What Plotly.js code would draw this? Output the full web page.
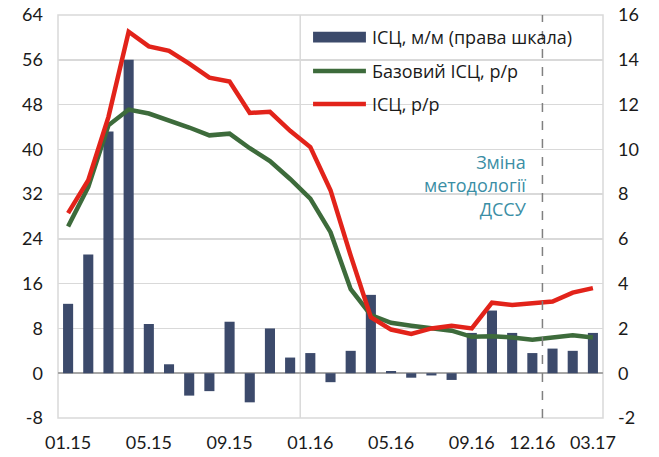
<!DOCTYPE html>
<html>
<head>
<meta charset="utf-8">
<script src="https://cdn.plot.ly/plotly-3.0.1.min.js"></script>
<style>html,body{margin:0;padding:0;background:#fff;}#chart{width:659px;height:457px;}</style>
</head>
<body>
<div id="chart"></div>
<script>
const months = ["01.15","02.15","03.15","04.15","05.15","06.15","07.15","08.15","09.15","10.15","11.15","12.15",
                "01.16","02.16","03.16","04.16","05.16","06.16","07.16","08.16","09.16","10.16","11.16","12.16",
                "01.17","02.17","03.17"];
const tickLabels = ["01.15","05.15","09.15","01.16","05.16","09.16","12.16","03.17"];
const cpiMoM = [3.1, 5.3, 10.8, 14.0, 2.2, 0.4, -1.0, -0.8, 2.3, -1.3, 2.0, 0.7,
                0.9, -0.4, 1.0, 3.5, 0.1, -0.2, -0.1, -0.3, 1.8, 2.8, 1.8, 0.9,
                1.1, 1.0, 1.8];
const coreYoY = [26.2, 33.3, 44.3, 47.1, 46.4, 45.2, 43.9, 42.5, 42.8, 40.2, 37.9, 34.7,
                 31.2, 25.2, 15.0, 10.4, 9.0, 8.5, 8.0, 7.6, 6.5, 6.6, 6.4, 6.0,
                 6.4, 6.8, 6.4];
const cpiYoY = [28.6, 34.5, 45.8, 61.0, 58.4, 57.6, 55.3, 52.8, 52.1, 46.5, 46.7, 43.3,
                40.4, 32.7, 21.0, 10.0, 7.8, 7.0, 8.0, 8.5, 8.0, 12.6, 12.2, 12.4,
                12.8, 14.4, 15.2];
const leftTicks = [-8, 0, 8, 16, 24, 32, 40, 48, 56, 64];
const rightTicks = [-2, 0, 2, 4, 6, 8, 10, 12, 14, 16];
const names = ["ІСЦ, м/м (права шкала)", "Базовий ІСЦ, р/р", "ІСЦ, р/р"];
const colors = ["#3c4a6b", "#3d6b3b", "#e2231a"];
const noteText = "Зміна<br>методології<br>ДССУ";

const font = "Lato, 'Open Sans', sans-serif";
const textFont = "'Open Sans', Lato, sans-serif";
const grid = "#d9d9d9";
const fmt = v => String(v).replace("\u2212", "-");

const traces = [
  {type:"bar", x:months, y:cpiMoM, name:names[0], yaxis:"y", marker:{color:colors[0]}},
  {type:"scatter", mode:"lines", x:months, y:coreYoY, name:names[1], yaxis:"y2", line:{color:colors[1], width:4.5}},
  {type:"scatter", mode:"lines", x:months, y:cpiYoY, name:names[2], yaxis:"y2", line:{color:colors[2], width:4.5}}
];

// legend (drawn manually to match the wide symbols)
const legX0 = 0.468, legX1 = 0.565, legTextX = 0.572;
const legY = [0.945, 0.861, 0.779];
const shapes = [
  {type:"rect", xref:"paper", yref:"paper", x0:0, x1:1, y0:0, y1:1, line:{color:grid, width:1.5}, layer:"below"},
  {type:"line", xref:"x", yref:"paper", x0:11.5, x1:11.5, y0:0, y1:1, line:{color:grid, width:1.5}, layer:"below"},
  {type:"line", xref:"x", yref:"paper", x0:23.5, x1:23.5, y0:0, y1:1, line:{color:"#808080", width:1.5, dash:"dash"}},
  {type:"rect", xref:"paper", yref:"paper", x0:legX0, x1:legX1, y0:legY[0]-0.0135, y1:legY[0]+0.0135, line:{width:0}, fillcolor:colors[0]},
  {type:"line", xref:"paper", yref:"paper", x0:legX0, x1:legX1, y0:legY[1], y1:legY[1], line:{color:colors[1], width:4.5}},
  {type:"line", xref:"paper", yref:"paper", x0:legX0, x1:legX1, y0:legY[2], y1:legY[2], line:{color:colors[2], width:4.5}}
];
const annotations = names.map((n, i) => ({
  text:n, xref:"paper", yref:"paper", x:legTextX, y:legY[i], xanchor:"left", yanchor:"middle",
  showarrow:false, font:{size:18, color:"#1a1a1a", family:textFont}
}));
annotations.push({text:noteText, xref:"x", yref:"paper", x:22.85, y:0.67, xanchor:"right", yanchor:"top",
  align:"right", showarrow:false, font:{size:18, color:"#3a8ea5", family:textFont}});

const layout = {
  width:659, height:457,
  margin:{l:58, r:56, t:15, b:39},
  paper_bgcolor:"#fff", plot_bgcolor:"#fff",
  font:{family:font, size:18, color:"#1a1a1a"},
  showlegend:false,
  bargap:0.5,
  xaxis:{type:"category", tickmode:"array", tickvals:tickLabels, ticktext:tickLabels,
         showgrid:false, zeroline:false, showline:false, ticks:"", tickfont:{size:18}, ticklabelstandoff:12},
  yaxis:{side:"right", range:[-2,16], tickmode:"array", tickvals:rightTicks, ticktext:rightTicks.map(fmt),
         showgrid:true, gridcolor:grid, gridwidth:1.5,
         zeroline:true, zerolinecolor:"#a6a6a6", zerolinewidth:1.5, showline:false, ticks:"", tickfont:{size:18},
         ticklabelstandoff:14},
  yaxis2:{side:"left", overlaying:"y", range:[-8,64], tickmode:"array", tickvals:leftTicks, ticktext:leftTicks.map(fmt),
          showgrid:false, zeroline:false, showline:false, ticks:"", tickfont:{size:18}, ticklabelstandoff:14},
  shapes:shapes,
  annotations:annotations
};

Plotly.newPlot("chart", traces, layout, {displayModeBar:false, staticPlot:true});
</script>
</body>
</html>
